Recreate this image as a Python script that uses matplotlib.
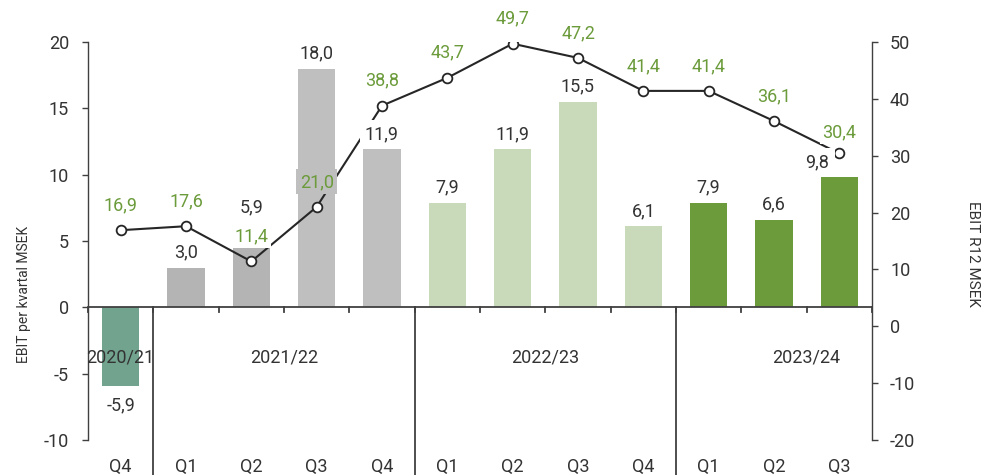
import matplotlib
matplotlib.use("Agg")
import matplotlib.pyplot as plt

plt.rcParams['font.family'] = ['Roboto', 'DejaVu Sans']
plt.rcParams['axes.unicode_minus'] = False

quarters = ["Q4", "Q1", "Q2", "Q3", "Q4", "Q1", "Q2", "Q3", "Q4", "Q1", "Q2", "Q3"]
ebit_q = [-5.9, 3.0, 5.9, 18.0, 11.9, 7.9, 11.9, 15.5, 6.1, 7.9, 6.6, 9.8]
ebit_r12 = [16.9, 17.6, 11.4, 21.0, 38.8, 43.7, 49.7, 47.2, 41.4, 41.4, 36.1, 30.4]
bar_colors = ["#72a38f", "#b4b4b4", "#b4b4b4", "#bfbfbf", "#bfbfbf",
              "#c8dab9", "#c8dab9", "#c8dab9", "#c8dab9",
              "#6b9b3a", "#6b9b3a", "#6b9b3a"]
years = ["2020/21", "2021/22", "2022/23", "2023/24"]
year_pos = [0, 2.5, 6.5, 10.5]
separators = [0.5, 4.5, 8.5]

dark = "#333333"
green = "#6b9b3a"

fig = plt.figure(figsize=(9.85, 4.75), dpi=100)
ax = fig.add_axes([88/985, 1-440/475, (872-88)/985, (440-42)/475])
ax2 = ax.twinx()

x = list(range(len(quarters)))
ax.bar(x, ebit_q, width=0.57, color=bar_colors, zorder=1)
ax.set_xlim(-0.5, len(quarters) - 0.5)
ax.set_ylim(-10, 20)
ax.set_yticks([-10, -5, 0, 5, 10, 15, 20])

ax2.set_ylim(-20, 50)
ax2.set_yticks([-20, -10, 0, 10, 20, 30, 40, 50])

ax2.plot(x, ebit_r12, color="#262626", lw=1.5, marker="o", markersize=7,
         markerfacecolor="white", markeredgecolor="#262626", markeredgewidth=1.3,
         zorder=3)

ax.set_zorder(1)
ax2.set_zorder(2)
ax2.patch.set_visible(False)

for a in (ax, ax2):
    for s in ("top", "bottom"):
        a.spines[s].set_visible(False)
    a.spines["left"].set_color("#404040")
    a.spines["right"].set_color("#404040")
    a.spines["left"].set_linewidth(1.0)
    a.spines["right"].set_linewidth(1.0)
ax.spines["right"].set_visible(False)
ax2.spines["left"].set_visible(False)

ax.tick_params(axis="y", direction="out", length=4.5, width=1.0, color="#404040",
               labelsize=13, labelcolor=dark, pad=9)
ax2.tick_params(axis="y", direction="out", length=4.5, width=1.0, color="#404040",
                labelsize=13, labelcolor=dark, pad=8.5)

ax.set_xticks(x)
ax.set_xticklabels(quarters)
ax.tick_params(axis="x", length=0, labelsize=13, labelcolor=dark, pad=13)

# x axis line at zero
ax.axhline(0, color="#404040", lw=1.3, zorder=2)
# boundary ticks
for b in [i + 0.5 for i in range(-1, len(quarters))]:
    ax.plot([b, b], [0, -0.35], color="#404040", lw=1.3, zorder=2, clip_on=False)
# year separators
for s in separators:
    ax.axvline(s, ymin=-0.09, ymax=1/3, color="#404040", lw=1.3, clip_on=False, zorder=2)

for name, p in zip(years, year_pos):
    ax.text(p, -3.8, name, ha="center", va="center", fontsize=13, color=dark, zorder=4)


def ax_to_ax2(xv, yv):
    disp = ax.transData.transform((xv, yv))
    return ax2.transData.inverted().transform(disp)


bar_dx = [0, 0, 0, 0, 0, 0, 0, 0, 0, 0, 0, -22]
for i, v in enumerate(ebit_q):
    xx, yy = ax_to_ax2(i, v)
    off = 15 if v >= 0 else -20
    if i == 2:
        off = 22
    ax2.annotate(f"{v:.1f}".replace(".", ","), (xx, yy),
                 xytext=(bar_dx[i] * 0.72, off * 0.72),
                 textcoords="offset points", ha="center", va="center", fontsize=13,
                 color=dark, zorder=6,
                 bbox=dict(boxstyle="square,pad=0.3", fc="white", ec="none"))

for i, v in enumerate(ebit_r12):
    fc = "#bfbfbf" if i == 3 else "white"
    pad = 0.2 if i == 3 else 0.12
    ax2.annotate(f"{v:.1f}".replace(".", ","), (i, v),
                 xytext=(0, 25 * 0.72 if i != 11 else 21 * 0.72),
                 textcoords="offset points", ha="center", va="center", fontsize=13,
                 color=green, zorder=5,
                 bbox=dict(boxstyle=f"square,pad={pad}", fc=fc, ec="none"))

fig.text(24/985, 1-294/475, "EBIT per kvartal MSEK", rotation=90, ha="center", va="center",
         fontsize=10, color=dark)
fig.text(973/985, 1-254/475, "EBIT R12 MSEK", rotation=270, ha="center", va="center",
         fontsize=11, color=dark)

fig.savefig("out.png", dpi=100)
